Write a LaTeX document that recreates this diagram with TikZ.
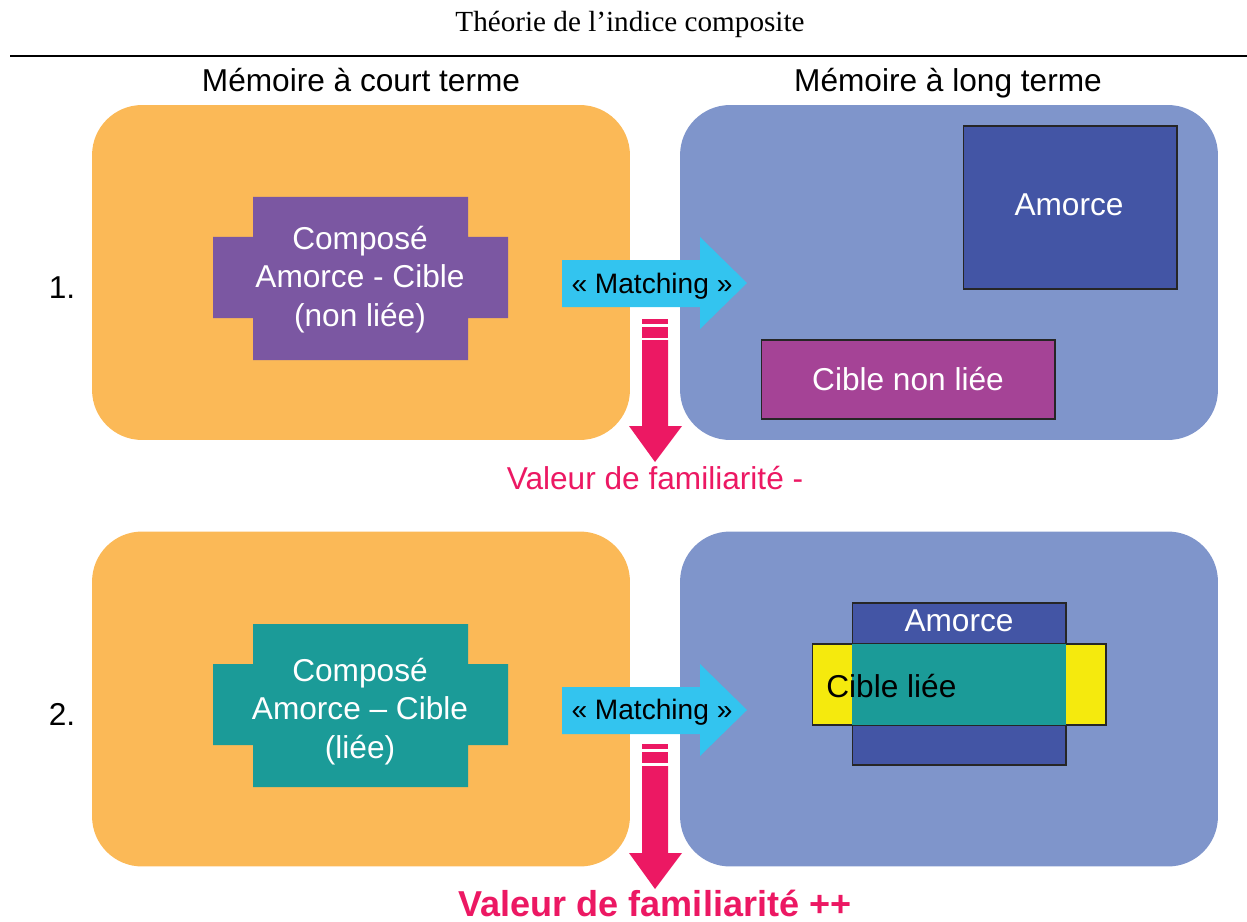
\documentclass[tikz,border=0pt]{standalone}
\usepackage{fontspec}
\setmainfont{Liberation Serif}
\setsansfont{Liberation Sans}
\usepackage{tikz}
\usetikzlibrary{positioning}
\definecolor{orangeMem}{RGB}{251,185,87}
\definecolor{bleuMem}{RGB}{127,149,203}
\definecolor{violetComp}{RGB}{123,87,162}
\definecolor{sarcelle}{RGB}{27,155,152}
\definecolor{bleuAmorce}{RGB}{67,85,165}
\definecolor{magentaCible}{RGB}{165,67,150}
\definecolor{jauneCible}{RGB}{245,234,13}
\definecolor{cyanFleche}{RGB}{51,196,239}
\definecolor{roseFleche}{RGB}{236,24,99}
\tikzstyle{mem} = [rectangle, rounded corners=1cm, minimum width=10.76cm, minimum height=6.7cm, inner sep=0pt]
\tikzstyle{texte} = [inner sep=0pt, font=\sffamily\fontsize{18}{21.8}\selectfont, align=center]
\tikzstyle{boite} = [rectangle, draw=black!85, line width=0.6pt, inner sep=0pt, text=white, font=\sffamily\fontsize{18}{21.8}\selectfont]
\tikzstyle{titre} = [inner sep=0pt, anchor=base, font=\fontsize{16.6}{19}\selectfont]

\begin{document}
\begin{tikzpicture}[x=0.02cm,y=-0.02cm]
\useasboundingbox (0,0) rectangle (1247,922);
% titre et entetes
\node (titre) [titre] at (630,32) {Théorie de l’indice composite};
\coordinate (regleG) at (10,56);
\coordinate (regleD) at (1247,56);
\draw [line width=1.2pt] (regleG) -- (regleD);
\node (entete1) [texte, anchor=base] at (361,92) {Mémoire à court terme};
\node (entete2) [texte, anchor=base] at (948,92) {Mémoire à long terme};
% ligne 1
\node (mct1) [mem, fill=orangeMem] at (361,272.5) {};
\node (mlt1) [mem, fill=bleuMem] at (949,272.5) {};
\node (num1) [texte, anchor=base] at (62,298) {1.};
\fill [violetComp] (253,197) -- (468,197) -- (468,237) -- (508,237) -- (508,318) -- (468,318) -- (468,360) -- (253,360) -- (253,318) -- (213,318) -- (213,237) -- (253,237) -- cycle;
\node (comp1) [texte, text=white] at (360,279.5) {Composé\\Amorce - Cible\\(non liée)};
\node (amorce1) [boite, fill=bleuAmorce, minimum width=4.28cm, minimum height=3.26cm] at (1070,207.5) {};
\node (amorceTxt1) [texte, text=white, anchor=base] at (1069,215) {Amorce};
\node (cible1) [boite, fill=magentaCible, minimum width=5.88cm, minimum height=1.58cm] at (908,379.5) {Cible non liée};
\fill [cyanFleche] (562,260) -- (700,260) -- (700,237) -- (747,283) -- (700,329) -- (700,307) -- (562,307) -- cycle;
\node (match1) [texte, font=\sffamily\fontsize{16}{19}\selectfont, anchor=base] at (652,293) {« Matching »};
\fill [roseFleche] (642,319) rectangle (668,324);
\fill [roseFleche] (642,327) rectangle (668,338);
\fill [roseFleche] (642,340) -- (668,340) -- (668,426) -- (682,426) -- (655,462) -- (629,426) -- (642,426) -- cycle;
\node (valeur1) [texte, text=roseFleche, anchor=base] at (655,489) {Valeur de familiarité -};
% ligne 2
\node (mct2) [mem, fill=orangeMem] at (361,699) {};
\node (mlt2) [mem, fill=bleuMem] at (949,699) {};
\node (num2) [texte, anchor=base] at (62,725) {2.};
\fill [sarcelle] (253,624) -- (468,624) -- (468,664) -- (508,664) -- (508,745) -- (468,745) -- (468,787) -- (253,787) -- (253,745) -- (213,745) -- (213,664) -- (253,664) -- cycle;
\node (comp2) [texte, text=white] at (360,711.5) {Composé\\Amorce – Cible\\(liée)};
\node (amorce2) [boite, fill=bleuAmorce, minimum width=4.28cm, minimum height=3.24cm] at (959,684) {};
\node (amorceTxt2) [texte, text=white, anchor=base] at (959,631) {Amorce};
\node (cible2) [boite, fill=jauneCible, minimum width=5.88cm, minimum height=1.62cm] at (959,684.5) {};
\node (lien2) [rectangle, fill=sarcelle, inner sep=0pt, minimum width=4.28cm, minimum height=1.62cm] at (959,684.5) {};
\node (cibleTxt2) [texte, anchor=base west] at (826,697) {Cible liée};
\fill [cyanFleche] (562,687) -- (700,687) -- (700,664) -- (747,710) -- (700,756) -- (700,734) -- (562,734) -- cycle;
\node (match2) [texte, font=\sffamily\fontsize{16}{19}\selectfont, anchor=base] at (652,719) {« Matching »};
\fill [roseFleche] (642,744) rectangle (668,749);
\fill [roseFleche] (642,752) rectangle (668,763);
\fill [roseFleche] (642,766) -- (668,766) -- (668,853) -- (682,853) -- (655,889) -- (629,853) -- (642,853) -- cycle;
\node (valeur2) [texte, text=roseFleche, font=\sffamily\bfseries\fontsize{20.5}{24}\selectfont, anchor=base] at (655,916) {Valeur de familiarité ++};
\end{tikzpicture}
\end{document}
